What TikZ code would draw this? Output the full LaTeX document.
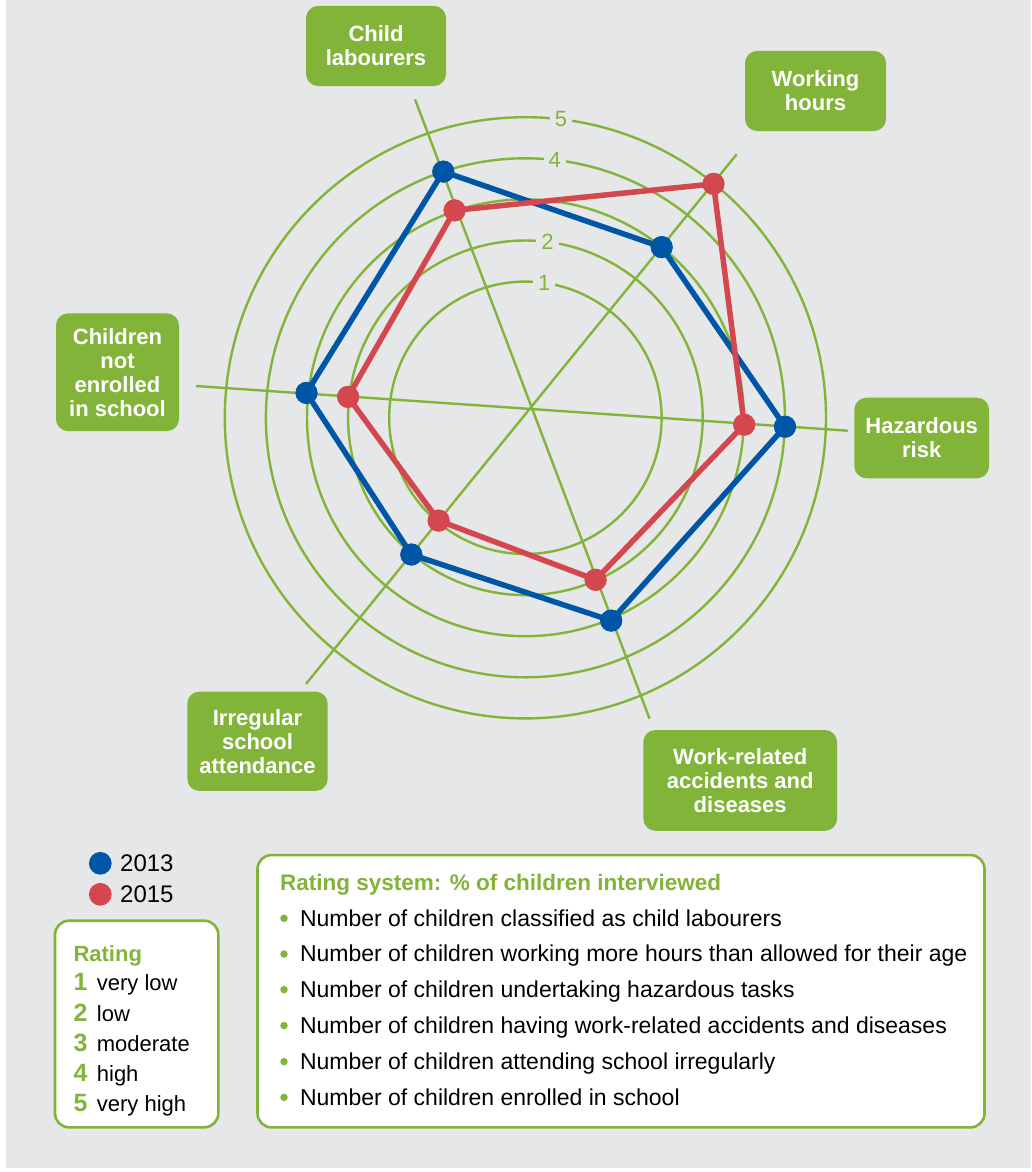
\documentclass[tikz,border=0pt]{standalone}
\usepackage{fontspec}
\setmainfont{Liberation Sans}
\definecolor{bg}{HTML}{E6E7E8}
\definecolor{gr}{HTML}{82B43A}
\definecolor{bl}{HTML}{0056A6}
\definecolor{rd}{HTML}{D4474F}
\begin{document}
\begin{tikzpicture}[x=1pt,y=-1pt,
  catbox/.style={fill=gr, rounded corners=12pt, text=white, font=\fontsize{22}{24}\selectfont\bfseries, align=center, inner sep=0pt},
  gridline/.style={draw=gr, line width=2.4pt},
  ser/.style={line width=5.5pt, line join=round},
  dotb/.style={circle, fill=bl, minimum size=22pt, inner sep=0pt},
  dotr/.style={circle, fill=rd, minimum size=22pt, inner sep=0pt},
  rlab/.style={fill=bg, text=gr, font=\fontsize{22}{24}\selectfont, inner xsep=5pt, inner ysep=1pt},
  body/.style={font=\fontsize{23}{26}\selectfont, anchor=base west, inner sep=0pt},
  leg/.style={font=\fontsize{22}{26}\selectfont, anchor=base west, inner sep=0pt},
  legnum/.style={font=\fontsize{22}{26}\selectfont\bfseries, text=gr, anchor=base west, inner sep=0pt},
  bullet/.style={circle, fill=gr, minimum size=7.5pt, inner sep=0pt},
  panel/.style={draw=gr, line width=2.6pt, fill=white, rounded corners=14pt, inner sep=0pt},
]
\useasboundingbox (0,0) rectangle (1031,1172);
\fill[white] (0,0) rectangle (1031,1172);
\fill[bg] (6,0) rectangle (1031,1168);

% rating circles
\coordinate (cc) at (525.4,417.8);
\foreach \r in {136.2,177.3,218.4,259.5,300.6}
  \draw[gridline] (cc) circle[radius=\r pt];

% spokes
\coordinate (a1s) at (415,99.3);    \coordinate (a1e) at (649.5,718.6);
\coordinate (a2s) at (736.7,154.3); \coordinate (a2e) at (306,683.9);
\coordinate (a3s) at (196,386);     \coordinate (a3e) at (847.7,430.7);
\draw[gridline] (a1s) -- (a1e);
\draw[gridline] (a2s) -- (a2e);
\draw[gridline] (a3s) -- (a3e);

% circle labels
\node[rlab] (l5) at (561.1,118.6) {5};
\node[rlab] (l4) at (554.8,160.2) {4};
\node[rlab] (l2) at (547.6,241.8) {2};
\node[rlab] (l1) at (544.3,282.7) {1};

% 2013 series
\node[dotb] (b1) at (443.3,171.6) {};
\node[dotb] (b2) at (661.7,247.1) {};
\node[dotb] (b3) at (785.0,426.7) {};
\node[dotb] (b4) at (611.2,620.6) {};
\node[dotb] (b5) at (411.3,554.5) {};
\node[dotb] (b6) at (306.5,392.9) {};
\draw[ser, bl] (b1.center) -- (b2.center) -- (b3.center) -- (b4.center) -- (b5.center) -- (b6.center) -- cycle;
\foreach \n in {b1,b2,b3,b4,b5,b6} \fill[bl] (\n.center) circle[radius=11pt];

% 2015 series
\node[dotr] (r1) at (454.6,210.4) {};
\node[dotr] (r2) at (713.5,183.9) {};
\node[dotr] (r3) at (744.2,424.7) {};
\node[dotr] (r4) at (595.6,579.8) {};
\node[dotr] (r5) at (438.6,520.6) {};
\node[dotr] (r6) at (348.1,396.9) {};
\draw[ser, rd] (r1.center) -- (r2.center) -- (r3.center) -- (r4.center) -- (r5.center) -- (r6.center) -- cycle;
\foreach \n in {r1,r2,r3,r4,r5,r6} \fill[rd] (\n.center) circle[radius=11pt];

% category boxes
\node[catbox, minimum width=140pt, minimum height=80pt] (cl) at (376,46) {Child\\labourers};
\node[catbox, minimum width=141pt, minimum height=80pt] (wh) at (815.5,91) {Working\\hours};
\node[catbox, minimum width=123pt, minimum height=117.7pt] (ne) at (117.5,372.2) {Children\\not\\enrolled\\in school};
\node[catbox, minimum width=134.7pt, minimum height=80.6pt] (hz) at (921.7,438) {Hazardous\\risk};
\node[catbox, minimum width=140.4pt, minimum height=99.3pt] (ir) at (257.5,741.3) {Irregular\\school\\attendance};
\node[catbox, minimum width=193.7pt, minimum height=100.7pt] (wr) at (740.2,780.4) {Work-related\\accidents and\\diseases};

% legend
\node[dotb, minimum size=22.7pt] (lgb) at (100.3,863.3) {};
\node[dotr, minimum size=22.7pt] (lgr) at (100.3,894.3) {};
\node[leg, font=\fontsize{24}{26}\selectfont] (y13) at (120,871.7) {2013};
\node[leg, font=\fontsize{24}{26}\selectfont] (y15) at (120,902.7) {2015};

% rating box
\node[panel, minimum width=163.3pt, minimum height=206.6pt] (ratbox) at (136.65,1024) {};
\node[legnum] (rt) at (73.3,961.7) {Rating};
\node[legnum, font=\fontsize{25}{26}\selectfont\bfseries] (n1) at (73.3,990.7) {1};
\node[legnum, font=\fontsize{25}{26}\selectfont\bfseries] (n2) at (73.3,1021) {2};
\node[legnum, font=\fontsize{25}{26}\selectfont\bfseries] (n3) at (73.3,1051.7) {3};
\node[legnum, font=\fontsize{25}{26}\selectfont\bfseries] (n4) at (73.3,1081.7) {4};
\node[legnum, font=\fontsize{25}{26}\selectfont\bfseries] (n5) at (73.3,1111.7) {5};
\node[leg] (t1) at (96.7,990.7) {very low};
\node[leg] (t2) at (96.7,1021) {low};
\node[leg] (t3) at (96.7,1051.7) {moderate};
\node[leg] (t4) at (96.7,1081.7) {high};
\node[leg] (t5) at (96.7,1111.7) {very high};

% rating system box
\node[panel, minimum width=727pt, minimum height=272.3pt] (sysbox) at (621,991.2) {};
\node[body, font=\fontsize{22.5}{26}\selectfont\bfseries, text=gr] (hd) at (280,890) {Rating system: \% of children interviewed};
\foreach \y/\t [count=\i] in {926/{Number of children classified as child labourers},
  961.7/{Number of children working more hours than allowed for their age},
  997.3/{Number of children undertaking hazardous tasks},
  1033.3/{Number of children having work-related accidents and diseases},
  1069.3/{Number of children attending school irregularly},
  1105/{Number of children enrolled in school}} {
  \node[bullet] (bu\i) at (284,\y-7.7) {};
  \node[body] (it\i) at (299.8,\y) {\t};
}
\end{tikzpicture}
\end{document}
